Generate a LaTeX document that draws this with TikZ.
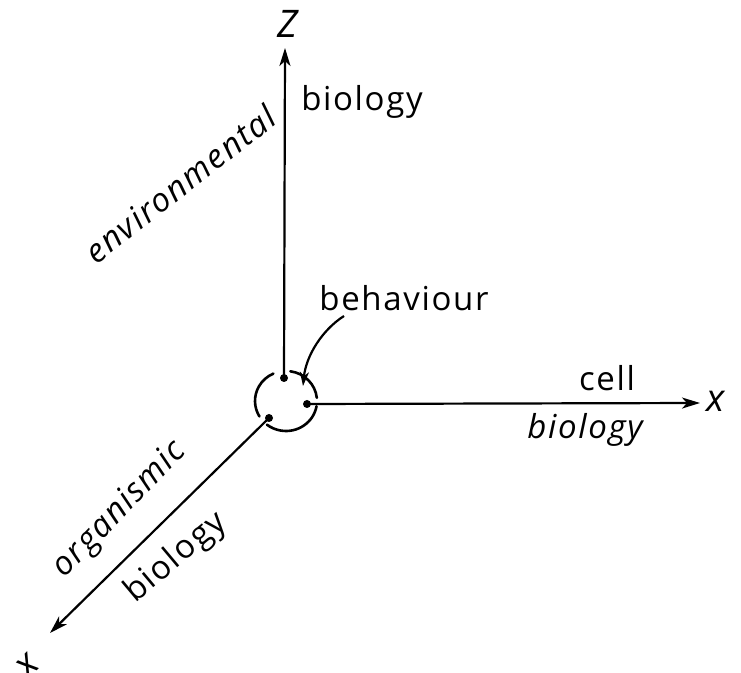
\documentclass[tikz,border=0pt]{standalone}
\usepackage{fontspec}
\setmainfont{Open Sans}
\newfontfamily\hand[LetterSpace=5]{Open Sans}
\usetikzlibrary{arrows.meta}
\tikzset{
  axis/.style={line width=2.2pt, -{Stealth[length=18pt,width=11pt,inset=5pt]}},
  dotmark/.style={circle, fill=black, inner sep=0pt, minimum size=8pt},
  ring/.style={line width=2.6pt, line cap=round},
  lab/.style={inner sep=0pt, font=\hand\fontsize{33}{38}\selectfont},
  slab/.style={lab, font=\hand\itshape\fontsize{33}{38}\selectfont},
  axlab/.style={inner sep=0pt, font=\itshape\fontsize{38}{42}\selectfont}
}
\begin{document}
\begin{tikzpicture}[x=1pt,y=1pt]
\useasboundingbox (0,0) rectangle (741,672);
% centre and dots
\coordinate (c) at (286,271);
\node[dotmark] (zd) at (284,294) {};
\node[dotmark] (xd) at (307,268) {};
\node[dotmark] (od) at (269,254) {};
\coordinate (zt) at (285,624);
\coordinate (xt) at (700,269);
\coordinate (ot) at (50,39);
% axes
\draw[axis] (zd.center) -- (zt);
\draw[axis] (xd.center) -- (xt);
\draw[axis] (od.center) -- (ot);
% broken ring
\draw[ring] ([shift={(82:31 and 30)}]c) arc[start angle=82,end angle=6,x radius=31,y radius=30];
\draw[ring] ([shift={(-10:31 and 30)}]c) arc[start angle=-10,end angle=-128,x radius=31,y radius=30];
\draw[ring] ([shift={(211:31 and 30)}]c) arc[start angle=211,end angle=114,x radius=31,y radius=30];
% axis labels
\node[axlab] (zl) at (288,648) {Z};
\node[axlab] (xl) at (716,271) {x};
\node[axlab, rotate=45] (ol) at (28,6) {x};
% behaviour
\node[lab] (beh) at (404,374) {behaviour};
\coordinate (bt) at (303,286);
\draw[line width=2.2pt, -{Stealth[length=14pt,width=9pt,inset=4pt]}] (344,356) .. controls (322,342) and (306,316) .. (bt);
% texts
\node[lab] (zb) at (362,570) {biology};
\node[slab, rotate=38] (env) at (180,488) {environmental};
\node[lab] (cell) at (607,294) {cell};
\node[slab] (xb) at (585,242) {biology};
\node[slab, rotate=46] (org) at (120,162) {organismic};
\node[lab, rotate=40] (ob) at (176,114) {biology};
\end{tikzpicture}
\end{document}
